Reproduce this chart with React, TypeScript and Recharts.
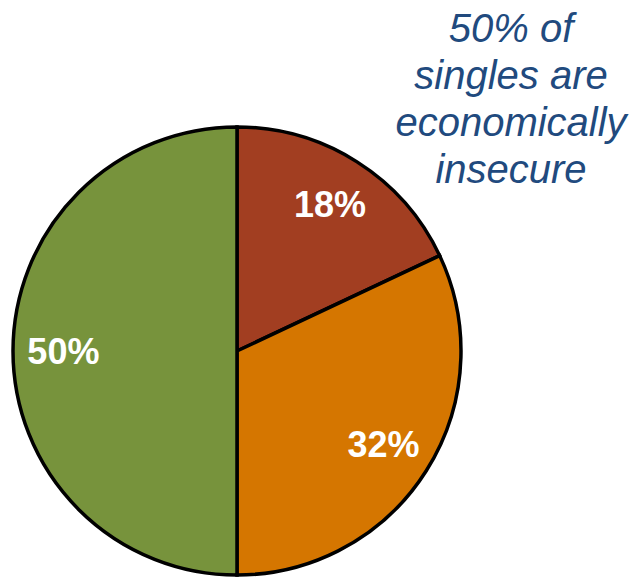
import React from 'react';
import { PieChart, Pie, Cell } from 'recharts';

// slice data, clockwise from 12 o'clock
const categories = ['Very insecure', 'Insecure', 'Secure'];
const shares = [18, 32, 50];
const sliceColors = ['#A23E21', '#D57600', '#77933C'];

const noteLines = ['50% of', 'singles are', 'economically', 'insecure'];

const data = categories.map((name, i) => ({ name, value: shares[i] }));

const RADIAN = Math.PI / 180;

function renderLabel(props: any) {
  const { cx, cy, midAngle, outerRadius, value } = props;
  const r = outerRadius * 0.775;
  const x = cx + r * Math.cos(-midAngle * RADIAN);
  const y = cy + r * Math.sin(-midAngle * RADIAN);
  return (
    <text
      x={x}
      y={y}
      fill="#FFFFFF"
      textAnchor="middle"
      dominantBaseline="central"
      fontSize={36}
      fontWeight={700}
      fontFamily="'Liberation Sans', Arial, sans-serif"
    >
      {`${value}%`}
    </text>
  );
}

export default function App() {
  return (
    <div style={{ position: 'absolute', left: 0, top: 0, width: 633, height: 577, background: '#fff' }}>
      <PieChart width={633} height={577} margin={{ top: 0, right: 0, bottom: 0, left: 0 }}>
        <Pie
          data={data}
          dataKey="value"
          nameKey="name"
          cx={237}
          cy={351}
          outerRadius={224}
          startAngle={90}
          endAngle={-270}
          stroke="#000000"
          strokeWidth={3.5}
          labelLine={false}
          label={renderLabel}
          isAnimationActive={false}
        >
          {data.map((entry, i) => (
            <Cell key={`cell-${i}`} fill={sliceColors[i]} />
          ))}
        </Pie>
      </PieChart>
      <svg width={633} height={577} style={{ position: 'absolute', left: 0, top: 0, pointerEvents: 'none' }}>
        {noteLines.map((line, i) => (
          <text
            key={line}
            x={511}
            y={42 + i * 47}
            textAnchor="middle"
            fill="#214A7E"
            fontSize={40}
            fontStyle="italic"
            fontFamily="'Liberation Sans', Arial, sans-serif"
          >
            {line}
          </text>
        ))}
      </svg>
    </div>
  );
}
